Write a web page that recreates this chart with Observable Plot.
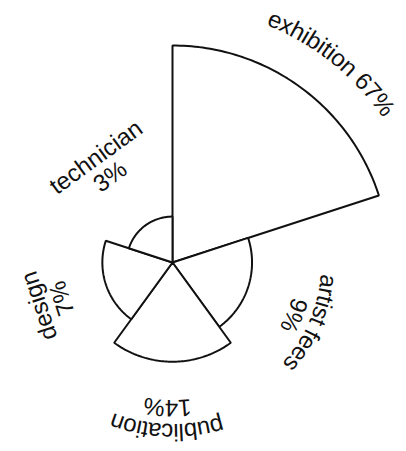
<!DOCTYPE html>
<html>
<head>
<meta charset="utf-8">
<script src="https://cdn.jsdelivr.net/npm/d3@7"></script>
<script src="https://cdn.jsdelivr.net/npm/@observablehq/plot@0.6"></script>
<style>
  html, body { margin: 0; padding: 0; background: #fff; }
  #chart svg { display: block; }
</style>
</head>
<body>
<div id="chart"></div>
<script>
// Budget breakdown, shares in percent
const categories = ["exhibition", "artist fees", "publication", "design", "technician"];
const shares = [67, 9, 14, 7, 3];

// Labels set on one line and labels that follow the arc
const oneLineLabels = ["exhibition"];
const arcLabels = ["exhibition", "artist fees", "publication"];

const fontSize = 24;
const fontFamily = "'Liberation Sans', Arial, sans-serif";

// small hand nudges for label placement (degrees clockwise, pixels outward)
const labelNudge = {
  "exhibition": {angle: 2.5, radius: 4},
  "artist fees": {angle: 5.5, radius: 7},
  "publication": {angle: 2, radius: 0}
};

const step = 360 / categories.length;
const rad = (a) => (a * Math.PI) / 180;
// sector radius grows with the square root of the share, so area tracks value
const radius = d3.scaleSqrt().domain([0, d3.max(shares)]).range([0, 217]);

// polygon outline for each wedge: centre, arc, back to centre
const sectors = categories.flatMap((c, i) => {
  const a0 = i * step, a1 = (i + 1) * step, r = radius(shares[i]);
  const pts = [{c, x: 0, y: 0}];
  for (let a = a0; a <= a1 + 1e-9; a += 1) pts.push({c, x: r * Math.sin(rad(a)), y: r * Math.cos(rad(a))});
  pts.push({c, x: 0, y: 0});
  return pts;
});

// label glyphs: straight rotated lines, or one glyph at a time along an arc
const ctx = document.createElement("canvas").getContext("2d");
ctx.font = `${fontSize}px ${fontFamily}`;
const glyphs = [];
categories.forEach((c, i) => {
  const nudge = labelNudge[c] || {angle: 0, radius: 0};
  const mid = (i + 0.5) * step + nudge.angle;
  const r = radius(shares[i]);
  let lines, radii;
  if (oneLineLabels.includes(c)) {
    lines = [`${c} ${shares[i]}%`];
    radii = [r + 42 + nudge.radius];
  } else {
    lines = [c, `${shares[i]}%`];
    const base = Math.max(r, 60) + 58 + nudge.radius;
    radii = [base + 12, base - 12];
  }
  lines.forEach((line, k) => {
    const R = radii[k];
    if (arcLabels.includes(c)) {
      const chars = [...line];
      const widths = chars.map((ch) => ctx.measureText(ch).width);
      const total = d3.sum(widths);
      let acc = 0;
      chars.forEach((ch, j) => {
        const s = acc + widths[j] / 2 - total / 2;
        acc += widths[j];
        const a = mid + (s / R) * 180 / Math.PI;
        glyphs.push({text: ch, x: R * Math.sin(rad(a)), y: R * Math.cos(rad(a)), rotate: a});
      });
    } else {
      glyphs.push({text: line, x: R * Math.sin(rad(mid)), y: R * Math.cos(rad(mid)), rotate: mid});
    }
  });
});

const chart = Plot.plot({
  width: 406,
  height: 451,
  margin: 0,
  x: {domain: [-172, 234], axis: null},
  y: {domain: [-189, 262], axis: null},
  style: {fontFamily, background: "#fff"},
  marks: [
    Plot.line(sectors, {x: "x", y: "y", z: "c", fill: "white", stroke: "#111", strokeWidth: 2, strokeLinejoin: "miter"}),
    Plot.text(glyphs, {x: "x", y: "y", text: "text", rotate: "rotate", fontSize, fill: "#111", textAnchor: "middle", lineAnchor: "middle"})
  ]
});
document.getElementById("chart").append(chart);
</script>
</body>
</html>
